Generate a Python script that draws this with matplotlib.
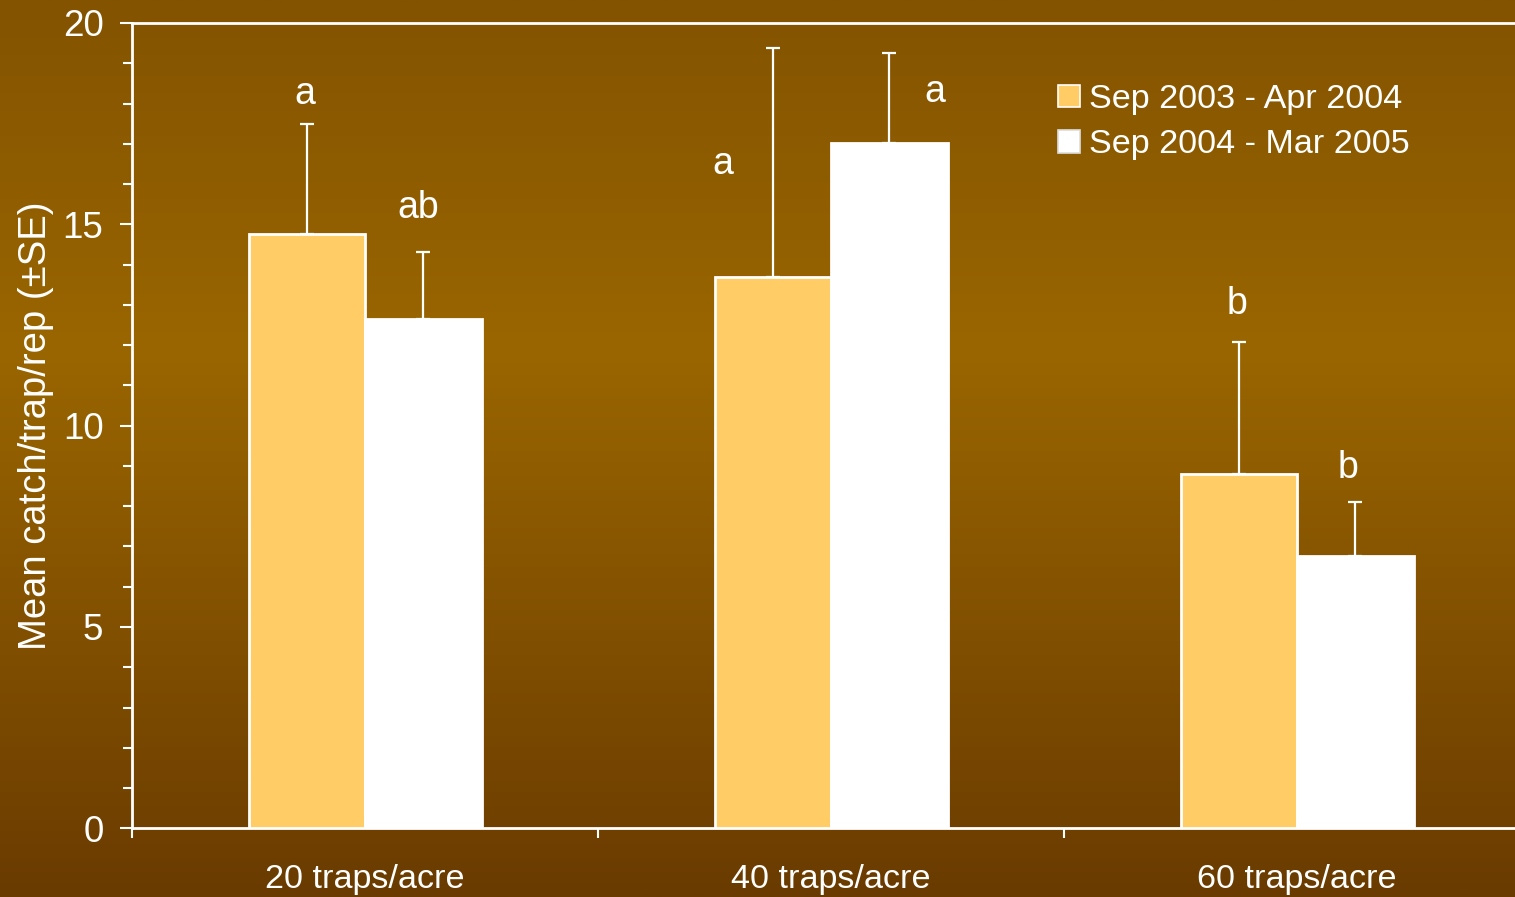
import numpy as np
import matplotlib
matplotlib.use("Agg")
import matplotlib.pyplot as plt
from matplotlib.colors import LinearSegmentedColormap
from matplotlib.patches import Patch

plt.rcParams['font.family'] = ['Liberation Sans', 'DejaVu Sans']

# Data
categories = ["20 traps/acre", "40 traps/acre", "60 traps/acre"]
series_names = ["Sep 2003 - Apr 2004", "Sep 2004 - Mar 2005"]
mean_2003 = [14.77, 13.70, 8.80]
se_2003 = [2.72, 5.69, 3.28]
mean_2004 = [12.64, 17.03, 6.76]
se_2004 = [1.67, 2.23, 1.34]
letters_2003 = ["a", "a", "b"]
letters_2004 = ["ab", "a", "b"]
letter_y_2003 = [17.98, 16.25, 12.78]
letter_y_2004 = [15.16, 18.04, 8.71]

# Styling
ORANGE = "#FFCC66"
WHITE = "#FFFFFF"
W, H, DPI = 1515, 897, 100
bar_w = 0.25
letter_dx_2003 = [-0.004, -0.108, -0.004]
letter_dx_2004 = [-0.01, 0.097, -0.015]

fig = plt.figure(figsize=(W / DPI, H / DPI), dpi=DPI)

# Brown vertical gradient background
bg = fig.add_axes([0, 0, 1, 1], zorder=-10)
cmap = LinearSegmentedColormap.from_list(
    "bg", [(0.0, "#835300"), (0.39, "#9A6600"), (1.0, "#6A3B00")])
grad = np.linspace(0, 1, 512).reshape(-1, 1)
bg.imshow(grad, aspect="auto", cmap=cmap, extent=[0, 1, 0, 1], origin="upper")
bg.set_axis_off()

left = 132 / W
bottom = (H - 828.3) / H
height = (828.3 - 23) / H
width = 1398 / W
ax = fig.add_axes([left, bottom, width, height])
ax.set_facecolor("none")

x = np.arange(len(categories))
ax.bar(x - bar_w / 2, mean_2003, bar_w, color=ORANGE, edgecolor=WHITE,
       linewidth=2, zorder=3, label=series_names[0])
ax.bar(x + bar_w / 2, mean_2004, bar_w, color=WHITE, edgecolor=WHITE,
       linewidth=2, zorder=3, label=series_names[1])
ax.errorbar(x - bar_w / 2, mean_2003, yerr=[np.zeros(3), se_2003], fmt="none",
            ecolor=WHITE, elinewidth=1.6, capsize=5, capthick=1.6, zorder=2)
ax.errorbar(x + bar_w / 2, mean_2004, yerr=[np.zeros(3), se_2004], fmt="none",
            ecolor=WHITE, elinewidth=1.6, capsize=5, capthick=1.6, zorder=2)

for i in range(len(categories)):
    ax.text(x[i] - bar_w / 2 + letter_dx_2003[i], letter_y_2003[i], letters_2003[i],
            ha="center", va="baseline", color=WHITE, fontsize=27)
    ax.text(x[i] + bar_w / 2 + letter_dx_2004[i], letter_y_2004[i], letters_2004[i],
            ha="center", va="baseline", color=WHITE, fontsize=27)

ax.set_xlim(-0.5, 2.5)
ax.set_ylim(0, 20)

# y axis
ax.set_yticks([0, 5, 10, 15, 20])
ax.set_yticks(np.arange(0, 21, 1), minor=True)
ax.tick_params(axis="y", which="major", length=8.6, width=1.5, color=WHITE,
               labelcolor=WHITE, labelsize=26.5, pad=12)
ax.tick_params(axis="y", which="minor", length=6.5, width=1.5, color=WHITE)

# x axis: ticks at category boundaries, labels at centres
ax.set_xticks([-0.5, 0.5, 1.5, 2.5])
ax.set_xticklabels([])
ax.set_xticks(x, minor=True)
ax.set_xticklabels(categories, minor=True)
ax.tick_params(axis="x", which="major", length=7, width=1.5, color=WHITE)
ax.tick_params(axis="x", which="minor", length=0, labelcolor=WHITE,
               labelsize=24.6, pad=25.5)

for side in ["left", "bottom", "top", "right"]:
    ax.spines[side].set_color(WHITE)
    ax.spines[side].set_linewidth(2)

ax.set_ylabel("Mean catch/trap/rep (\u00b1SE)", color=WHITE, fontsize=27.5)
ax.yaxis.set_label_coords(-0.056, 0.5)

handles = [Patch(facecolor=ORANGE, edgecolor=WHITE, linewidth=1.2),
           Patch(facecolor=WHITE, edgecolor="#DDDDDD", linewidth=1.2)]
leg = fig.legend(handles, series_names, loc="upper left",
                 bbox_to_anchor=(1058 / W, 1 - 84 / H), frameon=False,
                 fontsize=24.6, labelcolor=WHITE, handlelength=0.64,
                 handleheight=0.64, handletextpad=0.27, labelspacing=0.42,
                 borderpad=0, borderaxespad=0)

fig.savefig("out.png", dpi=DPI)
